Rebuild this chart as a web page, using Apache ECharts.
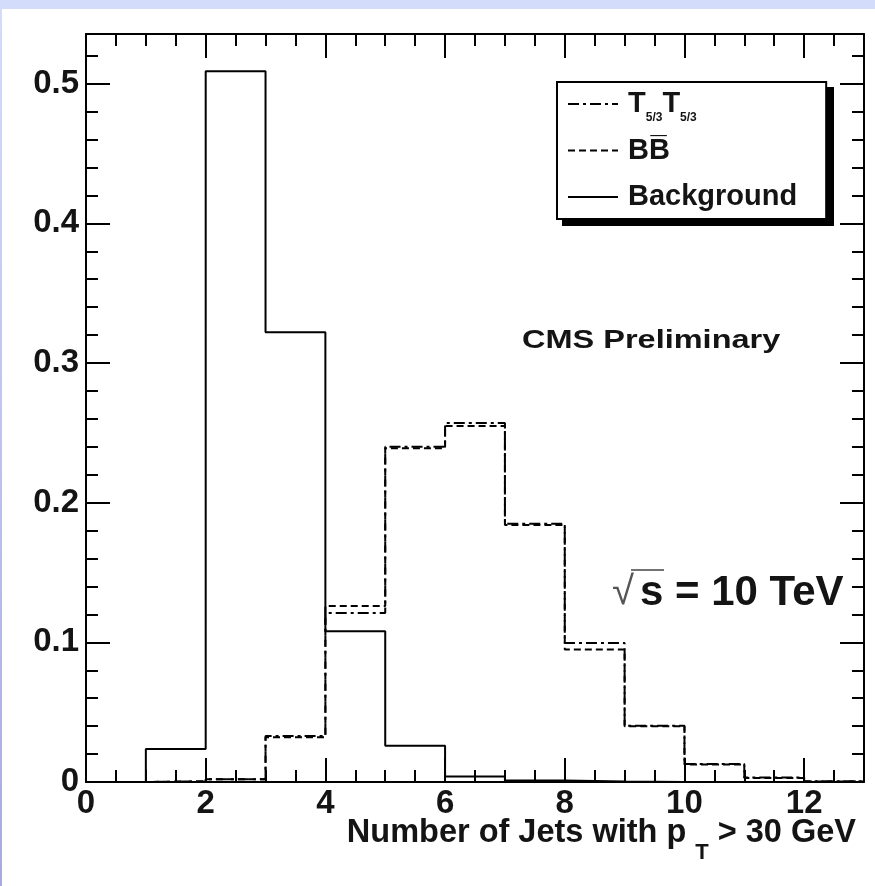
<!DOCTYPE html>
<html>
<head>
<meta charset="utf-8">
<script src="https://cdn.jsdelivr.net/npm/echarts@6/dist/echarts.min.js"></script>
<style>
  html, body { margin: 0; padding: 0; }
  #page {
    position: relative; width: 875px; height: 886px;
    background: linear-gradient(to bottom, #d4dcfc, #a6aade);
  }
  #chart {
    position: absolute; left: 2px; top: 9px; width: 873px; height: 877px;
    background: #fff;
  }
</style>
</head>
<body>
<div id="page"><div id="chart"></div></div>
<script>
// bin edges and per-bin fractions
const binEdges = [0, 1, 2, 3, 4, 5, 6, 7, 8, 9, 10, 11, 12, 13];
const ttValues = [0, 0.0005, 0.002, 0.033, 0.121, 0.240, 0.257, 0.185, 0.0996, 0.0403, 0.0128, 0.0032, 0.0005];
const bbValues = [0, 0.0005, 0.002, 0.032, 0.126, 0.239, 0.255, 0.184, 0.0948, 0.0400, 0.0126, 0.0028, 0.0004];
const bgValues = [0, 0.0236, 0.509, 0.322, 0.108, 0.026, 0.004, 0.001, 0.0004, 0, 0, 0, 0];
const seriesNames = ['T5/3T5/3', 'BB\u0305', 'Background'];
const xMax = 13, yMax = 0.5356;

const FONT = 'Liberation Sans, Arial, Helvetica, sans-serif';
const INK = '#141414';

// histogram outline: one point per bin edge, last bin value repeated at the upper edge
function steps(vals) {
  return binEdges.map((e, i) => [e, vals[Math.min(i, vals.length - 1)]]);
}

function axisPair(dim, pos, major, minor, withLabels) {
  const base = {
    type: 'value', position: pos, min: 0, max: dim === 'x' ? xMax : yMax,
    splitLine: { show: false }
  };
  return [
    Object.assign({}, base, {
      interval: major,
      axisLine: { show: true, onZero: false, lineStyle: { color: '#000', width: 2 } },
      axisTick: { show: true, inside: true, length: 24, lineStyle: { color: '#000', width: 2 } },
      axisLabel: withLabels ? {
        show: true, showMaxLabel: false, margin: dim === 'x' ? 5 : 7,
        fontSize: 33, fontWeight: 'bold', fontFamily: FONT, color: INK
      } : { show: false }
    }),
    Object.assign({}, base, {
      interval: minor,
      axisLine: { show: false, onZero: false },
      axisTick: { show: true, inside: true, length: 12, lineStyle: { color: '#000', width: 2 } },
      axisLabel: { show: false }
    })
  ];
}

const chart = echarts.init(document.getElementById('chart'));

const xAxes = axisPair('x', 'bottom', 2, 0.5, true).concat(axisPair('x', 'top', 2, 0.5, false));
xAxes[0].name = 'Number of Jets with p {t|T} > 30 GeV';
xAxes[0].nameLocation = 'end';
xAxes[0].nameGap = -8;
xAxes[0].nameMoveOverlap = false;
xAxes[0].nameTextStyle = {
  align: 'right', verticalAlign: 'top', padding: [31, 0, 0, 0],
  fontSize: 32.5, fontWeight: 'bold', fontFamily: FONT, color: INK, lineHeight: 40,
  rich: { t: { fontSize: 22, fontWeight: 'bold', fontFamily: FONT, color: INK, lineHeight: 40, padding: [40, 0, 0, 0] } }
};
const yAxes = axisPair('y', 'left', 0.1, 0.02, true).concat(axisPair('y', 'right', 0.1, 0.02, false));

const legendText = {};
legendText[seriesNames[0]] = 'T{s|5/3}T{s|5/3}';

const option = {
  animation: false,
  textStyle: { fontFamily: FONT },
  grid: { left: 84, top: 25, width: 778, height: 748, containLabel: false, outerBoundsMode: 'none' },
  xAxis: xAxes,
  yAxis: yAxes,
  legend: {
    orient: 'vertical', left: 555, top: 73, z: 10,
    selectedMode: false,
    data: seriesNames,
    itemWidth: 50, itemHeight: 14, itemGap: 2.5,
    padding: [0, 29, 0, 10],
    backgroundColor: '#fff', borderColor: '#000', borderWidth: 2,
    lineStyle: { width: 2 },
    itemStyle: { opacity: 0 },
    formatter: name => legendText[name] || name,
    textStyle: {
      fontSize: 29, fontWeight: 'bold', fontFamily: FONT, color: INK, lineHeight: 44,
      padding: [0, 0, 0, 5],
      rich: { s: { fontSize: 12, fontWeight: 'bold', fontFamily: FONT, color: INK, lineHeight: 44, padding: [28, 0, 0, 0] } }
    }
  },
  graphic: [
    {
      // drop shadow of the legend box
      type: 'rect', z: 1, shape: { x: 560, y: 78, width: 272, height: 139 },
      style: { fill: '#000' }
    },
    {
      type: 'text', x: 520, y: 332, scaleX: 1.3,
      style: { text: 'CMS Preliminary', fontSize: 25, fontWeight: 'bold', fontFamily: FONT, fill: INK, textAlign: 'left', textVerticalAlign: 'middle' }
    },
    {
      type: 'text', x: 632, y: 584,
      style: { text: '\u221A', fontSize: 40, fontWeight: 'normal', fontFamily: FONT, fill: '#555', textAlign: 'right', textVerticalAlign: 'middle' }
    },
    {
      type: 'line', shape: { x1: 629, y1: 561, x2: 662, y2: 561 },
      style: { stroke: '#444', lineWidth: 1.5 }
    },
    {
      type: 'text', x: 638, y: 584,
      style: { text: 's = 10 TeV', fontSize: 42, fontWeight: 'bold', fontFamily: FONT, fill: INK, textAlign: 'left', textVerticalAlign: 'middle' }
    }
  ],
  series: [
    {
      name: seriesNames[0], type: 'line', step: 'end', symbol: 'none',
      itemStyle: { color: '#000' },
      lineStyle: { color: '#000', width: 2, type: [11, 4, 3, 4] },
      data: steps(ttValues)
    },
    {
      name: seriesNames[1], type: 'line', step: 'end', symbol: 'none',
      itemStyle: { color: '#000' },
      lineStyle: { color: '#000', width: 2, type: [7, 4] },
      data: steps(bbValues)
    },
    {
      name: seriesNames[2], type: 'line', step: 'end', symbol: 'none',
      itemStyle: { color: '#000' },
      lineStyle: { color: '#000', width: 2, type: 'solid' },
      data: steps(bgValues)
    }
  ]
};

chart.setOption(option);
</script>
</body>
</html>
